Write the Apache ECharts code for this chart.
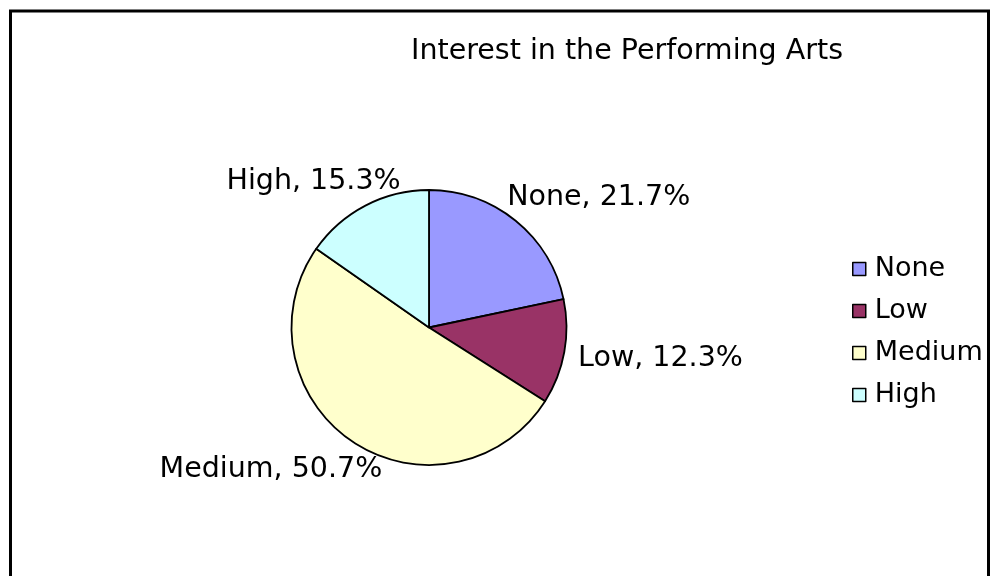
<!DOCTYPE html>
<html>
<head>
<meta charset="utf-8">
<script src="https://cdn.jsdelivr.net/npm/echarts@6/dist/echarts.min.js"></script>
<style>
  html, body { margin: 0; padding: 0; background: #fff; }
  #chart { width: 992px; height: 576px; }
</style>
</head>
<body>
<div id="chart"></div>
<script>
// ---- data ----
const titleText = 'Interest in the Performing Arts';
const categories = ['None', 'Low', 'Medium', 'High'];
const values = [21.7, 12.3, 50.7, 15.3];
const colors = ['#9999FF', '#993366', '#FFFFCC', '#CCFFFF'];

// ---- layout constants ----
const PIE_CX = 429, PIE_CY = 327.5, PIE_R = 137.5, START_ANGLE = 90;
const FONT = '"DejaVu Sans", sans-serif';

const total = values.reduce((a, b) => a + b, 0);
function midAngle(i) {
  let cum = 0;
  for (let k = 0; k < i; k++) cum += values[k];
  return (START_ANGLE - (cum + values[i] / 2) / total * 360) * Math.PI / 180;
}

const chart = echarts.init(document.getElementById('chart'), null, { renderer: 'canvas' });
chart.setOption({
  backgroundColor: '#ffffff',
  animation: false,
  title: {
    text: titleText,
    left: 627,
    top: 38,
    textAlign: 'center',
    padding: 0,
    textStyle: { fontFamily: FONT, fontSize: 28.5, fontWeight: 'normal', color: '#000', lineHeight: 28 }
  },
  legend: {
    orient: 'vertical',
    left: 852,
    top: 255,
    padding: 0,
    itemWidth: 13,
    itemHeight: 13,
    itemGap: 14,
    icon: 'rect',
    itemStyle: { borderColor: '#000', borderWidth: 1.5 },
    textStyle: { fontFamily: FONT, fontSize: 27, color: '#000', lineHeight: 28, padding: [0, 0, 0, 4] },
    data: categories
  },
  graphic: [{
    type: 'rect',
    shape: { x: 10.5, y: 11, width: 978, height: 620 },
    style: { fill: null, stroke: '#000', lineWidth: 3 },
    silent: true,
    z: 100
  }],
  series: [{
    type: 'pie',
    center: [PIE_CX, PIE_CY],
    radius: [0, PIE_R],
    startAngle: START_ANGLE,
    clockwise: true,
    avoidLabelOverlap: false,
    data: categories.map((c, i) => ({ name: c, value: values[i], itemStyle: { color: colors[i] } })),
    itemStyle: { borderColor: '#000', borderWidth: 1.8 },
    emphasis: { disabled: true },
    label: {
      show: true,
      position: 'outside',
      formatter: '{b}, {c}%',
      fontFamily: FONT,
      fontSize: 28.5,
      lineHeight: 28,
      color: '#000',
      padding: 0
    },
    labelLine: { show: false },
    labelLayout: function (params) {
      // Place each label just outside the pie along the slice's mid-angle,
      // sliding the box around its edge according to the angle.
      const a = midAngle(params.dataIndex);
      const c = Math.cos(a), s = Math.sin(a);
      const R = PIE_R + 14;
      const ax = PIE_CX + R * c, ay = PIE_CY - R * s;
      const m = Math.max(Math.abs(c), Math.abs(s));
      const w = params.labelRect.width, h = 28;
      return {
        x: ax + (c / m) * w / 2,
        y: ay - (s / m) * h / 2 + 2,
        align: 'center',
        verticalAlign: 'middle'
      };
    }
  }]
});
</script>
</body>
</html>
